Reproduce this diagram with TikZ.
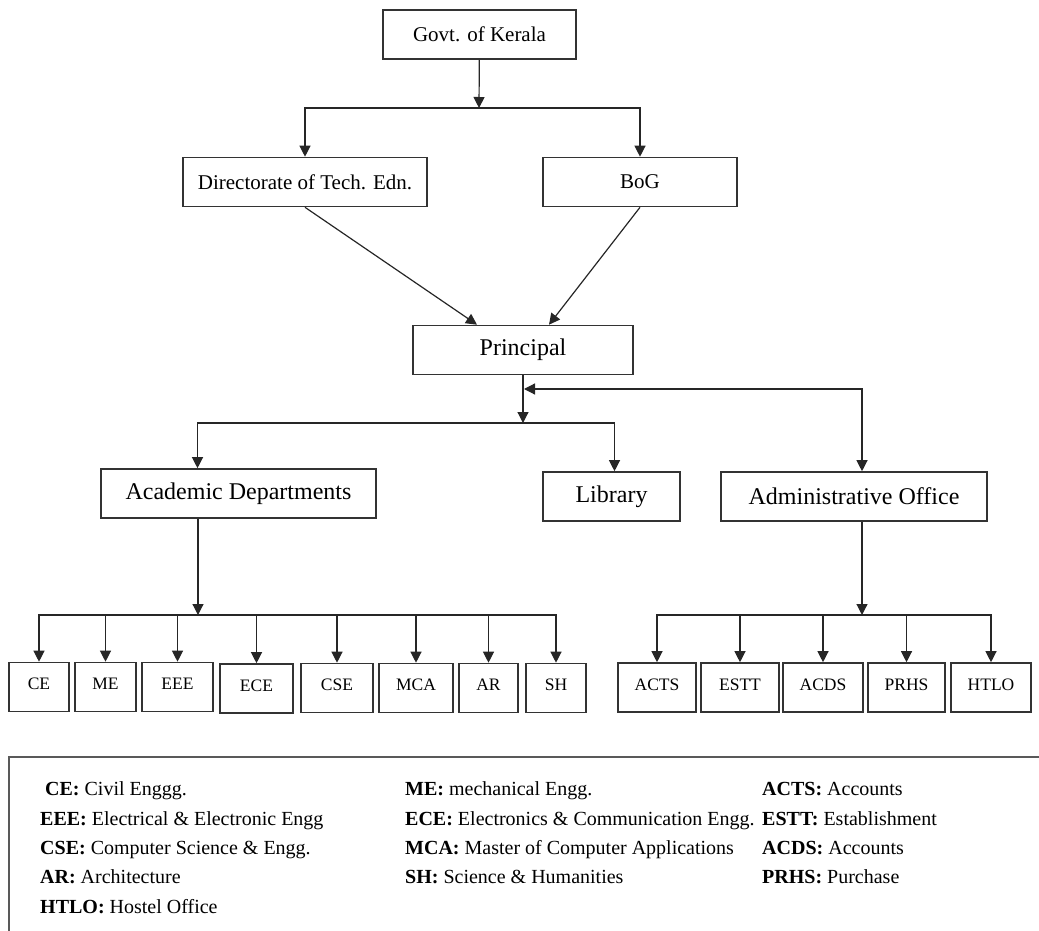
\documentclass[tikz,border=0pt]{standalone}
\usepackage{fontspec}
\setmainfont{Liberation Serif}
\usetikzlibrary{arrows.meta}

\begin{document}
\begin{tikzpicture}[x=1pt, y=-1pt,
  box/.style={draw=black!80, line width=1.6pt, rectangle, minimum height=49pt, inner sep=0pt, font=\fontsize{21}{25}\selectfont},
  bigbox/.style={box, font=\fontsize{24}{28}\selectfont},
  unit/.style={draw=black!80, line width=1.6pt, rectangle, minimum height=49pt, inner sep=0pt, text depth=6pt, font=\fontsize{17.5}{21}\selectfont},
  key/.style={anchor=base west, inner sep=0pt, font=\fontsize{20}{24}\selectfont},
  link/.style={line width=1.2pt, draw=black!85},
  >={Triangle[length=11pt,width=11pt]}]
\useasboundingbox (0,0) rectangle (1039,931);

\node[box, minimum width=193pt](gov) at (479.5,34.5) {Govt. of Kerala};
\node[box, minimum width=244pt](dte) at (305,182) {Directorate of Tech. Edn.};
\node[box, minimum width=194pt](bog) at (640,182) {BoG};
\node[bigbox, minimum width=220pt](prin) at (523,350) {Principal};
\node[bigbox, minimum width=275pt](acad) at (238.5,493.5) {Academic Departments};
\node[bigbox, minimum width=137pt](lib) at (611.5,496.5) {Library};
\node[bigbox, minimum width=266pt](admin) at (854,496.5) {Administrative Office};

\coordinate (govsplit) at (479,108);
\draw[link,->] (gov) -- (govsplit);
\draw[link,->] (govsplit) -| (dte);
\draw[link,->] (govsplit) -| (bog);
\draw[link,->] (dte.south) -- ([xshift=-46pt]prin.north);
\draw[link,->] (bog.south) -- ([xshift=26pt]prin.north);

\coordinate (prinsplit) at (523,423);
\draw[link,->] (prin) -- (prinsplit);
\draw[link,->] (prinsplit) -| ([xshift=-41pt]acad.north);
\draw[link,->] (prinsplit) -| ([xshift=3pt]lib.north);
\coordinate (prinback) at (524,389);
\draw[link,<->] (prinback) -| ([xshift=8pt]admin.north);

% departments
\node[unit, minimum width=60pt](ce) at (39,687) {CE};
\node[unit, minimum width=61pt](me) at (105.5,687) {ME};
\node[unit, minimum width=71pt](eee) at (177.5,687) {EEE};
\node[unit, minimum width=73pt](ece) at (256.5,688.5) {ECE};
\node[unit, minimum width=72pt](cse) at (337,688) {CSE};
\node[unit, minimum width=74pt](mca) at (416,688) {MCA};
\node[unit, minimum width=59pt](ar) at (488.5,688) {AR};
\node[unit, minimum width=60pt](sh) at (556,688) {SH};

\coordinate (acadsplit) at (198,615);
\draw[link,->] ([xshift=-40.5pt]acad.south) -- (acadsplit);
\draw[link,->] (acadsplit) -| (ce);
\draw[link,->] (acadsplit) -| (me);
\draw[link,->] (acadsplit) -| (eee);
\draw[link,->] (acadsplit) -| (ece);
\draw[link,->] (acadsplit) -| (cse);
\draw[link,->] (acadsplit) -| (mca);
\draw[link,->] (acadsplit) -| (ar);
\draw[link,->] (acadsplit) -| (sh);

% office sections
\node[unit, minimum width=78pt](acts) at (657,687.5) {ACTS};
\node[unit, minimum width=78pt](estt) at (740,687.5) {ESTT};
\node[unit, minimum width=80pt](acds) at (823,687.5) {ACDS};
\node[unit, minimum width=77pt](prhs) at (906.5,687.5) {PRHS};
\node[unit, minimum width=80pt](htlo) at (991,687.5) {HTLO};

\coordinate (adminsplit) at (862,615);
\draw[link,->] ([xshift=8pt]admin.south) -- (adminsplit);
\draw[link,->] (adminsplit) -| (acts);
\draw[link,->] (adminsplit) -| (estt);
\draw[link,->] (adminsplit) -| (acds);
\draw[link,->] (adminsplit) -| (prhs);
\draw[link,->] (adminsplit) -| (htlo);

% legend
\begin{scope}
\clip (0,0) rectangle (1039,931);
\draw[draw=black!65, line width=1.6pt] (9,757) rectangle (1060,960);
\end{scope}
\node[key](kce) at (45,795) {\textbf{CE:} Civil Enggg.};
\node[key](keee) at (40,825) {\textbf{EEE:} Electrical \& Electronic Engg};
\node[key](kcse) at (40,854) {\textbf{CSE:} Computer Science \& Engg.};
\node[key](kar) at (40,883) {\textbf{AR:} Architecture};
\node[key](khtlo) at (40,913) {\textbf{HTLO:} Hostel Office};
\node[key](kme) at (405,795) {\textbf{ME:} mechanical Engg.};
\node[key](kece) at (405,825) {\textbf{ECE:} Electronics \& Communication Engg.};
\node[key](kmca) at (405,854) {\textbf{MCA:} Master of Computer Applications};
\node[key](ksh) at (405,883) {\textbf{SH:} Science \& Humanities};
\node[key](kacts) at (762,795) {\textbf{ACTS:} Accounts};
\node[key](kestt) at (762,825) {\textbf{ESTT:} Establishment};
\node[key](kacds) at (762,854) {\textbf{ACDS:} Accounts};
\node[key](kprhs) at (762,883) {\textbf{PRHS:} Purchase};
\end{tikzpicture}
\end{document}
